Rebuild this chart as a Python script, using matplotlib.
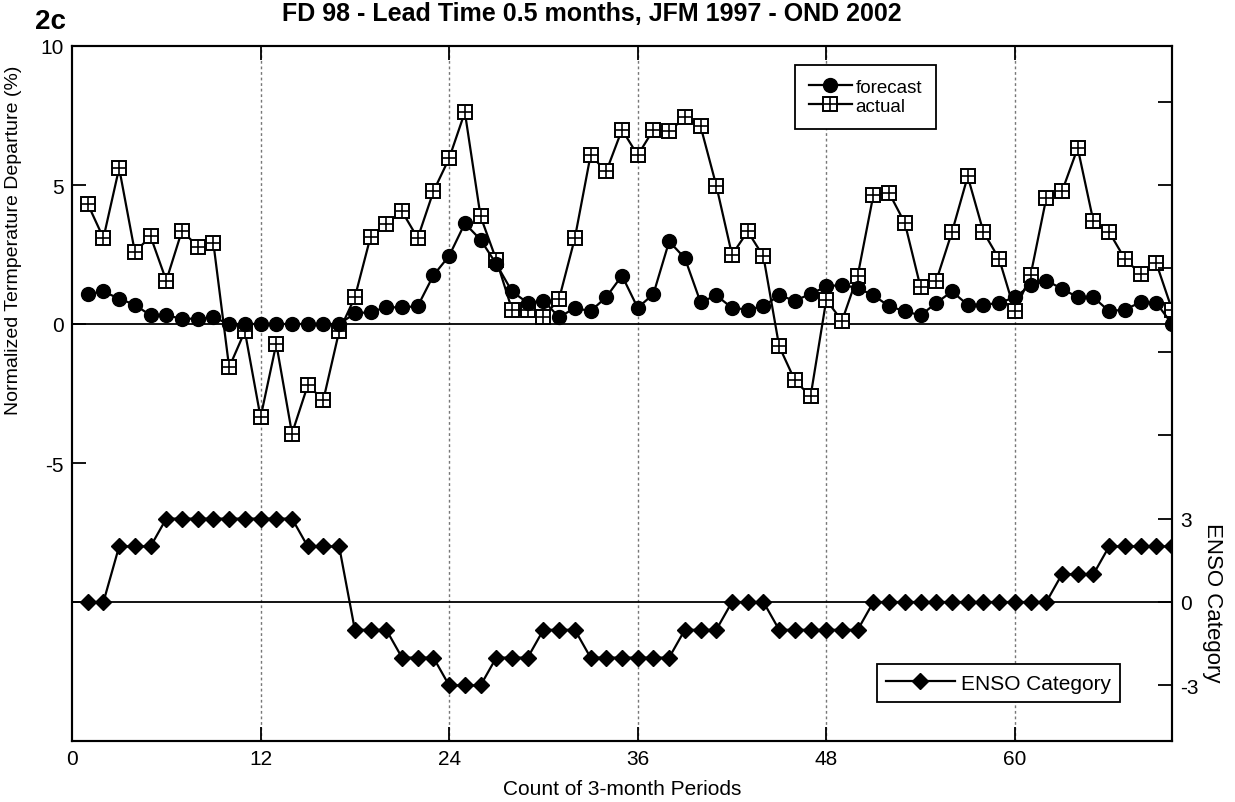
import numpy as np
import matplotlib
matplotlib.use("Agg")
import matplotlib.pyplot as plt
from matplotlib.legend_handler import HandlerTuple

plt.rcParams["font.family"] = ["Liberation Sans", "DejaVu Sans"]

periods = np.arange(1, 71)

forecast = [1.08, 1.17, 0.91, 0.69, 0.31, 0.31, 0.19, 0.19, 0.24, 0.0,
            0.0, 0.0, 0.0, 0.0, 0.0, 0.0, 0.0, 0.38, 0.43, 0.60,
            0.60, 0.64, 1.75, 2.45, 3.62, 3.03, 2.16, 1.17, 0.76, 0.84,
            0.24, 0.58, 0.46, 0.97, 1.74, 0.58, 1.08, 2.97, 2.37, 0.78,
            1.03, 0.58, 0.52, 0.64, 1.03, 0.84, 1.08, 1.35, 1.41, 1.29,
            1.03, 0.64, 0.46, 0.31, 0.76, 1.17, 0.69, 0.69, 0.76, 0.96,
            1.39, 1.56, 1.27, 0.96, 0.96, 0.46, 0.52, 0.78, 0.76, 0.0]

actual = [4.32, 3.09, 5.61, 2.59, 3.15, 1.56, 3.36, 2.78, 2.90, -1.56,
          -0.26, -3.36, -0.71, -3.94, -2.21, -2.72, -0.26, 0.96, 3.14, 3.61,
          4.05, 3.09, 4.77, 5.96, 7.62, 3.87, 2.31, 0.52, 0.52, 0.24,
          0.91, 3.09, 6.07, 5.49, 6.99, 6.07, 6.99, 6.93, 7.43, 7.11,
          4.98, 2.49, 3.33, 2.43, -0.80, -2.03, -2.60, 0.87, 0.11, 1.74,
          4.65, 4.71, 3.63, 1.32, 1.56, 3.31, 5.31, 3.31, 2.34, 0.46,
          1.75, 4.53, 4.77, 6.33, 3.69, 3.31, 2.34, 1.80, 2.19, 0.52]

enso = [0, 0, 2, 2, 2, 3, 3, 3, 3, 3,
        3, 3, 3, 3, 2, 2, 2, -1, -1, -1,
        -2, -2, -2, -3, -3, -3, -2, -2, -2, -1,
        -1, -1, -2, -2, -2, -2, -2, -2, -1, -1,
        -1, 0, 0, 0, -1, -1, -1, -1, -1, -1,
        0, 0, 0, 0, 0, 0, 0, 0, 0, 0,
        0, 0, 1, 1, 1, 2, 2, 2, 2, 2]

x_ticks = [0, 12, 24, 36, 48, 60]
left_ticks = [10, 5, 0, -5, -10, -15]
left_labels = ["10", "5", "0", "-5", "", ""]
right_ticks = [-3, 0, 3, 6, 9, 12, 15, 18]
right_labels = ["-3", "0", "3", "", "", "", "", ""]

fig = plt.figure(figsize=(12.35, 8.03), dpi=100)
ax = fig.add_axes([72 / 1235, 1 - 742 / 803, 1100 / 1235, 695 / 803])
ax2 = ax.twinx()

ax.set_xlim(0, 70)
ax.set_ylim(-15, 10)
ax2.set_ylim(-5, 20)

for xv in x_ticks[1:]:
    ax.axvline(xv, color="#777777", lw=1.0, ls=(0, (2, 2)), zorder=1)
ax.axhline(0, color="black", lw=1.3, zorder=2)
ax2.axhline(0, color="black", lw=1.3, zorder=2)

# forecast / actual on the left axis
l_fc, = ax.plot(periods, forecast, color="black", lw=1.6, marker="o",
                ms=10, mfc="black", mec="black", zorder=4)
l_ac, = ax.plot(periods, actual, color="black", lw=1.6, marker="s",
                ms=9.5, mfc="white", mec="black", mew=1.4, zorder=3)
l_plus, = ax.plot(periods, actual, ls="none", marker="+", ms=9.5,
                  mec="black", mew=1.2, zorder=3.5)

# ENSO category on the right axis
l_en, = ax2.plot(periods, enso, color="black", lw=1.6, marker="D",
                 ms=8, mfc="black", mec="black", zorder=4)

ax.set_xticks(x_ticks)
ax.set_yticks(left_ticks)
ax.set_yticklabels(left_labels)
ax2.set_yticks(right_ticks)
ax2.set_yticklabels(right_labels)

ax.tick_params(axis="both", direction="in", length=10, width=1.3,
               labelsize=15, top=True, pad=6)
ax2.tick_params(axis="y", direction="in", length=10, width=1.3,
                labelsize=15, pad=6)
for sp in list(ax.spines.values()) + list(ax2.spines.values()):
    sp.set_linewidth(1.5)

ax.set_xlabel("Count of 3-month Periods", fontsize=15, labelpad=8)
ax.set_ylabel("Normalized Termperature Departure (%)", fontsize=14)
ax.yaxis.set_label_coords(-0.045, 0.722)
ax2.set_ylabel("ENSO Category", fontsize=16, rotation=-90, va="center")
ax2.yaxis.set_label_coords(1.037, 0.2)

leg1 = ax.legend([l_fc, (l_ac, l_plus)], ["forecast", "actual"],
                 handler_map={tuple: HandlerTuple(ndivide=1, pad=0)},
                 loc="upper left", bbox_to_anchor=(0.657, 0.973),
                 borderaxespad=0, fontsize=13.5, frameon=True, fancybox=False,
                 handlelength=2.3, handletextpad=0.2, labelspacing=0.1,
                 borderpad=0.75, edgecolor="black", framealpha=1)
leg1.get_frame().set_linewidth(1.3)
leg1.set_zorder(10)

leg2 = ax2.legend([l_en], ["ENSO Category"], loc="lower right",
                  bbox_to_anchor=(0.953, 0.056), borderaxespad=0,
                  fontsize=15, frameon=True, fancybox=False,
                  handlelength=3.3, handletextpad=0.3, borderpad=0.45,
                  edgecolor="black", framealpha=1)
leg2.get_frame().set_linewidth(1.3)
leg2.set_zorder(10)

fig.text(592 / 1235, 1 - 14 / 803, "FD 98 - Lead Time 0.5 months, JFM 1997 - OND 2002",
         ha="center", va="center", fontsize=18, fontweight="bold")
fig.text(35 / 1235, 1 - 22 / 803, "2c", ha="left", va="center",
         fontsize=20, fontweight="bold")

fig.savefig("out.png", dpi=100)
